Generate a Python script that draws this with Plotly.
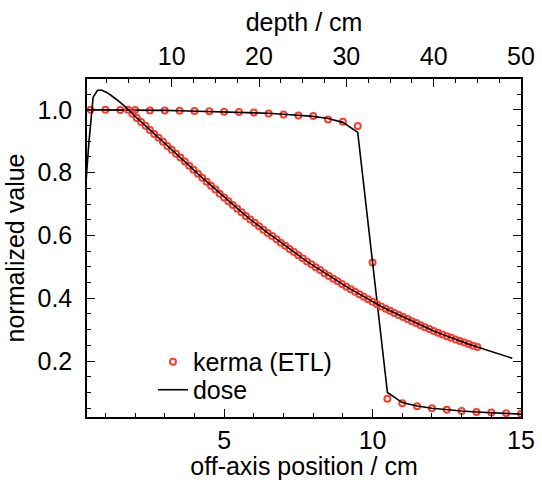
import plotly.graph_objects as go

# Off-axis profile (bottom axis, cm)
profile_x = [0.0, 0.5, 1.0, 1.5, 2.0, 2.5, 3.0, 3.5, 4.0, 4.5, 5.0, 5.5, 6.0, 6.5, 7.0, 7.5,
             8.0, 8.5, 9.0, 9.5, 10.0, 10.5, 11.0, 11.5, 12.0, 12.5, 13.0, 13.5, 14.0, 14.5, 15.0]
profile_dose = [1.000, 1.000, 1.000, 0.999, 0.999, 0.998, 0.998, 0.997, 0.996, 0.995, 0.994,
                0.993, 0.991, 0.989, 0.986, 0.983, 0.979, 0.972, 0.960, 0.928, 0.514, 0.100,
                0.068, 0.057, 0.050, 0.045, 0.041, 0.038, 0.036, 0.033, 0.031]
profile_kerma_x = profile_x[1:]
profile_kerma = [1.000, 1.000, 0.999, 0.999, 0.998, 0.998, 0.997, 0.996, 0.995, 0.994,
                 0.993, 0.991, 0.988, 0.985, 0.982, 0.980, 0.969, 0.962, 0.948, 0.514, 0.080,
                 0.066, 0.056, 0.050, 0.045, 0.041, 0.038, 0.036, 0.034, 0.032]

# Depth dose (top axis, cm)
depth_x = [0.0, 0.5, 1.0, 1.5, 2.0, 2.5, 3.0, 3.5, 4.0, 4.5, 5.0, 6, 7, 8, 9, 10, 11, 12, 13, 14,
           15, 16, 17, 18, 19, 20, 21, 22, 23, 24, 25, 26, 27, 28, 29, 30, 31, 32, 33, 34, 35,
           36, 37, 38, 39, 40, 41, 42, 43, 44, 45, 46, 47, 48, 49]
depth_dose = [0.700, 0.890, 1.040, 1.062, 1.062, 1.056, 1.047, 1.037, 1.026, 1.014, 1.002,
              0.974, 0.949, 0.923, 0.898, 0.873, 0.848, 0.822, 0.796, 0.771, 0.746, 0.721,
              0.697, 0.674, 0.651, 0.629, 0.608, 0.588, 0.567, 0.547, 0.527, 0.508, 0.490,
              0.471, 0.454, 0.437, 0.421, 0.405, 0.389, 0.374, 0.360, 0.347, 0.334, 0.321,
              0.308, 0.296, 0.285, 0.274, 0.264, 0.254, 0.245, 0.236, 0.227, 0.218, 0.209]
depth_kerma_x = [5.0, 5.5, 6.0, 6.5, 7.0, 7.5, 8.0, 8.5, 9.0, 9.5, 10.0, 10.5, 11.0, 11.5,
                 12.0, 12.5, 13.0, 13.5, 14.0, 14.5, 15.0, 15.5, 16.0, 16.5, 17.0, 17.5, 18.0,
                 18.5, 19.0, 19.5, 20.0, 20.5, 21.0, 21.5, 22.0, 22.5, 23.0, 23.5, 24.0, 24.5,
                 25.0, 25.5, 26.0, 26.5, 27.0, 27.5, 28.0, 28.5, 29.0, 29.5, 30.0, 30.5, 31.0,
                 31.5, 32.0, 32.5, 33.0, 33.5, 34.0, 34.5, 35.0, 35.5, 36.0, 36.5, 37.0, 37.5,
                 38.0, 38.5, 39.0, 39.5, 40.0, 40.5, 41.0, 41.5, 42.0, 42.5, 43.0, 43.5, 44.0,
                 44.5, 45.0]
depth_kerma = [1.000, 0.987, 0.974, 0.961, 0.949, 0.936, 0.923, 0.911, 0.898, 0.885, 0.873,
               0.860, 0.848, 0.835, 0.822, 0.809, 0.796, 0.784, 0.771, 0.758, 0.746, 0.733,
               0.721, 0.709, 0.697, 0.685, 0.674, 0.662, 0.651, 0.640, 0.629, 0.618, 0.608,
               0.598, 0.588, 0.577, 0.567, 0.557, 0.547, 0.537, 0.527, 0.517, 0.508, 0.499,
               0.490, 0.480, 0.471, 0.462, 0.454, 0.445, 0.437, 0.429, 0.421, 0.413, 0.405,
               0.397, 0.389, 0.381, 0.374, 0.367, 0.360, 0.353, 0.347, 0.340, 0.334, 0.327,
               0.321, 0.314, 0.308, 0.302, 0.296, 0.290, 0.285, 0.279, 0.274, 0.269, 0.264,
               0.259, 0.254, 0.249, 0.245]

RED = "#ff3b2e"
FONT = dict(family="Liberation Sans, Arial, sans-serif", size=25, color="black")
marker_style = dict(symbol="circle-open", size=6, color=RED, line=dict(width=2, color=RED))
line_style = dict(color="black", width=1.6)

fig = go.Figure()
fig.add_trace(go.Scatter(x=profile_kerma_x, y=profile_kerma, mode="markers", marker=marker_style,
                         name="kerma (ETL)", xaxis="x", yaxis="y", legend="legend"))
fig.add_trace(go.Scatter(x=profile_x, y=profile_dose, mode="lines", line=line_style,
                         name="dose", xaxis="x", yaxis="y", legend="legend2"))
fig.add_trace(go.Scatter(x=depth_kerma_x, y=depth_kerma, mode="markers", marker=marker_style,
                         name="kerma (ETL)", xaxis="x2", yaxis="y", showlegend=False))
fig.add_trace(go.Scatter(x=depth_x, y=depth_dose, mode="lines", line=line_style,
                         name="dose", xaxis="x2", yaxis="y", showlegend=False))

axis_common = dict(showline=True, linecolor="black", linewidth=1.5, showgrid=False,
                   zeroline=False, ticks="inside", ticklen=8, tickwidth=1.2, tickcolor="black",
                   tickfont=FONT, automargin=True)
legend_common = dict(x=0.152, xanchor="left", yanchor="top", bgcolor="rgba(0,0,0,0)",
                     font=FONT, borderwidth=0, tracegroupgap=0, itemwidth=30)

fig.update_layout(
    width=542, height=480,
    margin=dict(l=87, r=21, t=79, b=63, autoexpand=False),
    paper_bgcolor="white", plot_bgcolor="white",
    font=FONT,
    showlegend=True,
    legend=dict(legend_common, y=0.231),
    legend2=dict(legend_common, y=0.148),
    xaxis=dict(axis_common, range=[0.38, 15], tick0=0, dtick=5, ticklabelstandoff=0,
               minor=dict(dtick=1, ticks="inside", ticklen=4, tickcolor="black"),
               title=dict(text="off-axis position / cm", font=FONT, standoff=6)),
    xaxis2=dict(axis_common, range=[0.3, 50], tick0=0, dtick=10, overlaying="x", side="top",
                anchor="y", ticklabelstandoff=2,
                minor=dict(dtick=2.5, ticks="inside", ticklen=4, tickcolor="black"),
                title=dict(text="depth / cm", font=FONT, standoff=4)),
    yaxis=dict(axis_common, range=[0.022, 1.098], tick0=0, dtick=0.2, tickformat=".1f",
               mirror="ticks", ticklabelstandoff=8,
               minor=dict(dtick=0.05, ticks="inside", ticklen=4, tickcolor="black"),
               title=dict(text="normalized value", font=FONT, standoff=6)),
)

fig.write_html("out.html")
